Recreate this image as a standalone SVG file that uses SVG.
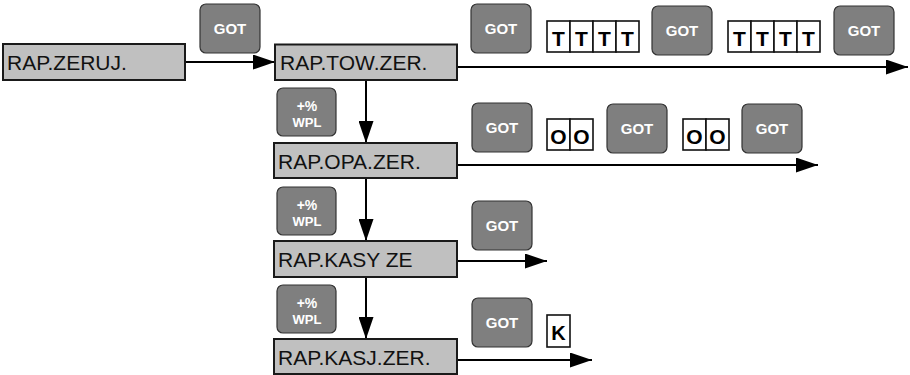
<svg xmlns="http://www.w3.org/2000/svg" width="910" height="375" viewBox="0 0 910 375">
<style>
.box{fill:#c0c0c0;stroke:#1a1a1a;stroke-width:2}
.lbl{font-family:"Liberation Sans",Arial,sans-serif;font-size:21px;fill:#111}
.key{fill:#7f7f7f;stroke:#333;stroke-width:1.2}
.kt{font-family:"Liberation Sans",Arial,sans-serif;font-weight:bold;fill:#fff;text-anchor:middle}
.cell{fill:#fff;stroke:#111;stroke-width:1.6}
.ct{font-family:"Liberation Sans",Arial,sans-serif;font-weight:bold;fill:#000;text-anchor:middle}
.con{stroke:#000;stroke-width:2;fill:none;marker-end:url(#ah)}
</style>
<defs>
<marker id="ah" markerUnits="userSpaceOnUse" markerWidth="22" markerHeight="15" refX="22" refY="7.5" orient="auto">
<path d="M0,0 L22,7.5 L0,15 z" fill="#000"/>
</marker>
<g id="got"><rect class="key" x="0" y="0" width="60" height="49" rx="6"/><text class="kt" x="30" y="30" font-size="15">GOT</text></g>
<g id="wpl"><rect class="key" x="0" y="0" width="59" height="48" rx="6"/><text class="kt" x="30" y="23" font-size="14">+%</text><text class="kt" x="30" y="39" font-size="13">WPL</text></g>
</defs>

<g id="connectors">
<line class="con" x1="185" y1="62" x2="275" y2="62"/>
<line class="con" x1="457" y1="67" x2="908" y2="67"/>
<line class="con" x1="366" y1="80" x2="366" y2="143"/>
<line class="con" x1="457" y1="165" x2="818" y2="165"/>
<line class="con" x1="366" y1="178" x2="366" y2="241"/>
<line class="con" x1="457" y1="261" x2="547" y2="261"/>
<line class="con" x1="366" y1="277" x2="366" y2="339"/>
<line class="con" x1="457" y1="360" x2="592" y2="360"/>
</g>

<g id="n-zeruj"><rect class="box" x="3" y="44" width="182" height="36"/><text class="lbl" x="7" y="70">RAP.ZERUJ.</text></g>
<g id="n-tow"><rect class="box" x="275" y="44.5" width="182" height="35.5"/><text class="lbl" x="280" y="70">RAP.TOW.ZER.</text></g>
<g id="n-opa"><rect class="box" x="274" y="143" width="183" height="35"/><text class="lbl" x="278" y="169">RAP.OPA.ZER.</text></g>
<g id="n-kasy"><rect class="box" x="274" y="241" width="183" height="36"/><text class="lbl" x="278" y="267">RAP.KASY ZE</text></g>
<g id="n-kasj"><rect class="box" x="274" y="339" width="183" height="35"/><text class="lbl" x="278" y="365">RAP.KASJ.ZER.</text></g>

<g id="k-got0"><use href="#got" x="200" y="4"/></g>
<g id="k-wpl1"><use href="#wpl" x="277" y="88"/></g>
<g id="k-wpl2"><use href="#wpl" x="277" y="187"/></g>
<g id="k-wpl3"><use href="#wpl" x="277" y="285"/></g>

<g id="row1">
<use href="#got" x="471" y="4"/>
<rect class="cell" x="547" y="21" width="23" height="31"/><rect class="cell" x="570" y="21" width="23" height="31"/><rect class="cell" x="593" y="21" width="23" height="31"/><rect class="cell" x="616" y="21" width="23" height="31"/>
<text class="ct" font-size="21"><tspan x="558.5" y="46">T</tspan><tspan x="581.5" y="46">T</tspan><tspan x="604.5" y="46">T</tspan><tspan x="627.5" y="46">T</tspan></text>
<use href="#got" x="652" y="6"/>
<rect class="cell" x="728" y="21" width="23" height="31"/><rect class="cell" x="751" y="21" width="23" height="31"/><rect class="cell" x="774" y="21" width="23" height="31"/><rect class="cell" x="797" y="21" width="23" height="31"/>
<text class="ct" font-size="21"><tspan x="739.5" y="46">T</tspan><tspan x="762.5" y="46">T</tspan><tspan x="785.5" y="46">T</tspan><tspan x="808.5" y="46">T</tspan></text>
<use href="#got" x="834" y="6"/>
</g>

<g id="row2">
<use href="#got" x="472" y="103"/>
<rect class="cell" x="547" y="119" width="23" height="31"/><rect class="cell" x="570" y="119" width="23" height="31"/>
<text class="ct" font-size="21"><tspan x="558.5" y="144">O</tspan><tspan x="581.5" y="144">O</tspan></text>
<use href="#got" x="607" y="104"/>
<rect class="cell" x="683" y="119" width="23" height="31"/><rect class="cell" x="706" y="119" width="23" height="31"/>
<text class="ct" font-size="21"><tspan x="694.5" y="144">O</tspan><tspan x="717.5" y="144">O</tspan></text>
<use href="#got" x="742" y="104"/>
</g>

<g id="row3"><use href="#got" x="472" y="201"/></g>

<g id="row4">
<use href="#got" x="472" y="298"/>
<rect class="cell" x="547" y="315" width="23" height="32"/>
<text class="ct" font-size="20" x="558.5" y="340">K</text>
</g>
</svg>
